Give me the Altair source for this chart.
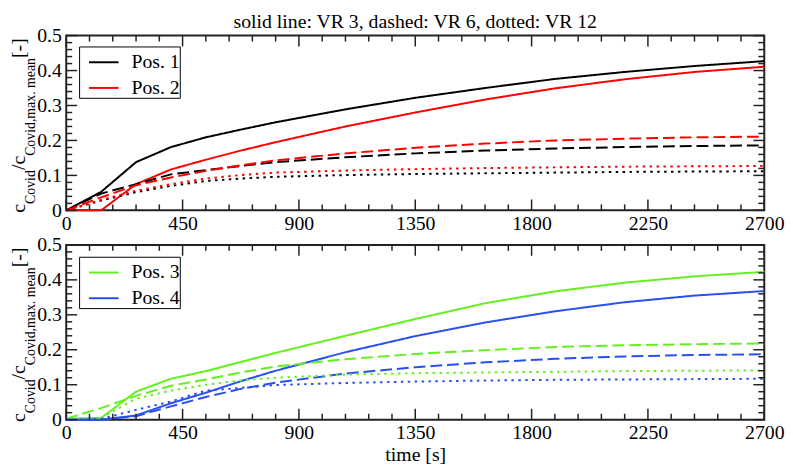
import altair as alt
import pandas as pd

SERIF = "Times New Roman, Liberation Serif, serif"

# ---------------- data ----------------
times = [0, 135, 270, 405, 540, 675, 810, 1080, 1350, 1620, 1890, 2160, 2430, 2700]

pos1_vr3 = [0, 0.053, 0.138, 0.181, 0.209, 0.231, 0.252, 0.289, 0.322, 0.350, 0.376, 0.396, 0.413, 0.427]
pos2_vr3 = [0, 0, 0.075, 0.117, 0.145, 0.171, 0.195, 0.240, 0.280, 0.317, 0.349, 0.375, 0.396, 0.411]
pos1_vr6 = [0, 0.048, 0.075, 0.103, 0.115, 0.127, 0.138, 0.152, 0.163, 0.171, 0.177, 0.181, 0.184, 0.186]
pos2_vr6 = [0, 0.037, 0.072, 0.094, 0.113, 0.129, 0.143, 0.163, 0.179, 0.191, 0.200, 0.205, 0.209, 0.211]
pos1_vr12 = [0, 0.028, 0.052, 0.070, 0.084, 0.091, 0.096, 0.101, 0.104, 0.106, 0.108, 0.110, 0.111, 0.112]
pos2_vr12 = [0, 0.030, 0.056, 0.075, 0.091, 0.101, 0.108, 0.114, 0.118, 0.121, 0.123, 0.125, 0.126, 0.127]

pos3_vr3 = [0.003, 0.005, 0.080, 0.117, 0.139, 0.165, 0.191, 0.240, 0.288, 0.333, 0.367, 0.392, 0.410, 0.423]
pos4_vr3 = [0, 0, 0.012, 0.047, 0.077, 0.110, 0.140, 0.193, 0.239, 0.278, 0.310, 0.336, 0.355, 0.368]
pos3_vr6 = [0.003, 0.033, 0.068, 0.097, 0.115, 0.135, 0.152, 0.173, 0.188, 0.199, 0.208, 0.213, 0.216, 0.218]
pos4_vr6 = [0, 0, 0.010, 0.038, 0.065, 0.088, 0.106, 0.132, 0.150, 0.164, 0.174, 0.181, 0.185, 0.187]
pos3_vr12 = [0, 0.005, 0.060, 0.083, 0.100, 0.112, 0.120, 0.129, 0.133, 0.135, 0.137, 0.139, 0.140, 0.141]
pos4_vr12 = [0, 0.002, 0.028, 0.052, 0.083, 0.091, 0.099, 0.105, 0.109, 0.112, 0.114, 0.115, 0.116, 0.117]

top_positions = ["Pos. 1", "Pos. 2"]
bottom_positions = ["Pos. 3", "Pos. 4"]
top_colors = ["#000000", "#ff0000"]
bottom_colors = ["#64f01e", "#2850f0"]
vr_names = ["VR 3", "VR 6", "VR 12"]

x_major = [0, 450, 900, 1350, 1800, 2250, 2700]
y_major = [0, 0.1, 0.2, 0.3, 0.4, 0.5]

title_text = "solid line: VR 3, dashed: VR 6, dotted: VR 12"
x_title = "time [s]"
y_title_parts = [("c", "main"), ("Covid", "sub"), ("/", "main"), ("c", "main"),
                 ("Covid,max. mean", "sub"), (" [-]", "main")]

# ---------------- layout constants ----------------
W, H = 707, 177
MAIN_FS, SUB_FS = 20, 14
MAJ_LEN, MIN_LEN = 11, 6


def long_df(series):
    rows = []
    for (pos, vr), vals in series.items():
        for t, v in zip(times, vals):
            rows.append({"t": t, "v": v, "pos": pos, "vr": vr})
    return pd.DataFrame(rows)


top_df = long_df({
    ("Pos. 1", "VR 3"): pos1_vr3, ("Pos. 2", "VR 3"): pos2_vr3,
    ("Pos. 1", "VR 6"): pos1_vr6, ("Pos. 2", "VR 6"): pos2_vr6,
    ("Pos. 1", "VR 12"): pos1_vr12, ("Pos. 2", "VR 12"): pos2_vr12,
})
bottom_df = long_df({
    ("Pos. 3", "VR 3"): pos3_vr3, ("Pos. 4", "VR 3"): pos4_vr3,
    ("Pos. 3", "VR 6"): pos3_vr6, ("Pos. 4", "VR 6"): pos4_vr6,
    ("Pos. 3", "VR 12"): pos3_vr12, ("Pos. 4", "VR 12"): pos4_vr12,
})

x_minor = [t for t in range(0, 2701, 90) if t % 450 != 0]
y_minor = [round(i * 0.02, 2) for i in range(26) if i % 5 != 0]

xscale = alt.Scale(domain=[0, 2700], nice=False, zero=False)
yscale = alt.Scale(domain=[0, 0.5], nice=False)

# em widths (Times metrics) for laying out the composed y title
EM = {'c': .444, 'C': .667, 'o': .5, 'v': .5, 'i': .278, 'd': .5, '/': .278, ',': .25,
      'm': .778, 'a': .444, 'x': .5, '.': .25, ' ': .25, 'e': .444, 'n': .5,
      '[': .333, '-': .333, ']': .333}


def text_width(s, fs):
    return sum(EM.get(ch, 0.5) for ch in s) * fs


def y_title_layers():
    layers = []
    total = sum(text_width(s, MAIN_FS if k == "main" else SUB_FS) for s, k in y_title_parts)
    start = H / 2 + total / 2
    off = 0.0
    for s, k in y_title_parts:
        fs = MAIN_FS if k == "main" else SUB_FS
        xb = -42 if k == "main" else -32
        layers.append(
            alt.Chart(pd.DataFrame({"txt": [s]})).mark_text(
                angle=270, align="left", baseline="alphabetic",
                font=SERIF, fontSize=fs, color="black"
            ).encode(x=alt.value(xb), y=alt.value(start - off), text="txt:N")
        )
        off += text_width(s, fs)
    return layers


def tick_layers():
    c = dict(color="#222222", strokeWidth=1.5)
    xmaj = pd.DataFrame({"t": x_major})
    xmin = pd.DataFrame({"t": x_minor})
    ymaj = pd.DataFrame({"v": y_major})
    ymin = pd.DataFrame({"v": y_minor})
    L = []
    for d, ln in [(xmaj, MAJ_LEN), (xmin, MIN_LEN)]:
        X = alt.X("t:Q", scale=xscale, axis=None)
        L.append(alt.Chart(d).mark_rule(**c).encode(x=X, y=alt.value(H), y2=alt.value(H - ln)))
        L.append(alt.Chart(d).mark_rule(**c).encode(x=X, y=alt.value(0), y2=alt.value(ln)))
    for d, ln in [(ymaj, MAJ_LEN), (ymin, MIN_LEN)]:
        Y = alt.Y("v:Q", scale=yscale, axis=None)
        L.append(alt.Chart(d).mark_rule(**c).encode(y=Y, x=alt.value(0), x2=alt.value(ln)))
        L.append(alt.Chart(d).mark_rule(**c).encode(y=Y, x=alt.value(W), x2=alt.value(W - ln)))
    return L


def panel(df, positions, colors, legend_y, bottom):
    xaxis_kw = dict(values=x_major, format="d", labelFont=SERIF, labelFontSize=20,
                    labelColor="black", ticks=False, domain=False, grid=False,
                    labelPadding=3, labelFlush=False, labelOverlap=False)
    if bottom:
        xaxis = alt.Axis(title=x_title, titleFont=SERIF, titleFontSize=20,
                         titleFontWeight="normal", titleColor="black", titlePadding=2,
                         **xaxis_kw)
    else:
        xaxis = alt.Axis(title=None, **xaxis_kw)
    yaxis = alt.Axis(values=y_major, title=None, labelFont=SERIF, labelFontSize=20,
                     labelColor="black", ticks=False, domain=False, grid=False,
                     labelPadding=5, labelFlush=False, labelOverlap=False,
                     labelExpr="datum.value == 0 ? '0' : format(datum.value, '.1f')")
    lines = alt.Chart(df).mark_line(strokeWidth=2, strokeCap="butt").encode(
        x=alt.X("t:Q", scale=xscale, axis=xaxis),
        y=alt.Y("v:Q", scale=yscale, axis=yaxis),
        color=alt.Color("pos:N", scale=alt.Scale(domain=positions, range=colors),
                        legend=alt.Legend(orient="none", legendX=13, legendY=legend_y,
                                          title=None, symbolType="stroke", symbolSize=900,
                                          symbolStrokeWidth=2, labelFont=SERIF,
                                          labelFontSize=20, labelColor="black",
                                          fillColor="white", strokeColor="black",
                                          padding=0, symbolOffset=9, labelOffset=12,
                                          rowPadding=-9,
                                          labelExpr="datum.label + '  '")),
        strokeDash=alt.StrokeDash("vr:N", scale=alt.Scale(domain=vr_names,
                                  range=[[1, 0], [12, 5], [2.5, 4.5]]), legend=None),
        order="t:Q",
    )
    layers = [lines] + tick_layers() + y_title_layers()
    if not bottom:
        layers.append(
            alt.Chart(pd.DataFrame({"txt": [title_text]})).mark_text(
                align="center", baseline="alphabetic", font=SERIF, fontSize=20, color="black"
            ).encode(x=alt.value(W / 2), y=alt.value(-8), text="txt:N")
        )
    return alt.layer(*layers).resolve_axis(x="independent", y="independent").properties(
        width=W, height=H)


top = panel(top_df, top_positions, top_colors, 11, False)
bot = panel(bottom_df, bottom_positions, bottom_colors, 12, True)

chart = alt.vconcat(top, bot, spacing=0).resolve_scale(color="independent").resolve_legend(
    color="independent").properties(padding=0, background="white").configure_view(
    stroke="#222222", strokeWidth=2)

chart.save("out.html", embed_options={"renderer": "svg", "actions": False})
